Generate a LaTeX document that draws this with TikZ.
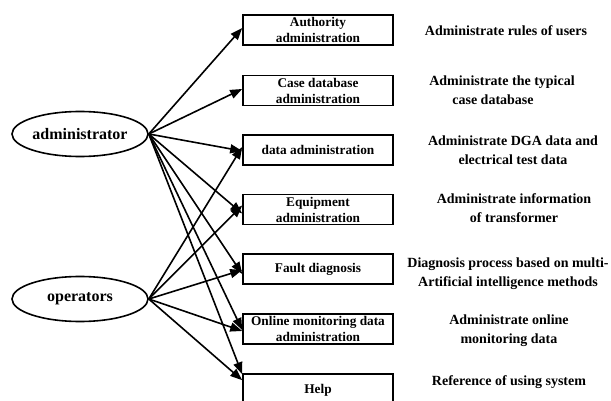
\documentclass[tikz,border=0pt]{standalone}
\usepackage{fontspec}
\setmainfont{Liberation Serif}
\usetikzlibrary{arrows.meta,shapes.geometric}
\begin{document}
\begin{tikzpicture}[x=1pt,y=-1pt,
  actor/.style={draw,line width=1.6pt,ellipse,minimum width=136pt,minimum height=45pt,inner sep=0pt,font=\fontsize{16}{18}\selectfont\bfseries},
  funcbox/.style={draw,line width=1.6pt,rectangle,minimum width=150pt,minimum height=30pt,inner sep=0pt,align=center,font=\fontsize{13.3}{16}\selectfont\bfseries},
  desc/.style={align=center,font=\fontsize{14}{19}\selectfont\bfseries},
  link/.style={line width=1.6pt,-{Triangle[length=12pt,width=9pt]}}]
\useasboundingbox (0,0) rectangle (611,401);
\node[actor] (adm) at (80,134) {administrator};
\node[actor] (ops) at (80,299) {operators};
\node[funcbox] (b1) at (318,30) {Authority\\administration};
\node[funcbox] (b2) at (318,90.5) {Case database\\administration};
\node[funcbox] (b3) at (318,150) {data administration};
\node[funcbox] (b4) at (318,209.5) {Equipment\\administration};
\node[funcbox] (b5) at (318,269) {Fault diagnosis};
\node[funcbox] (b6) at (318,329) {Online monitoring data\\administration};
\node[funcbox,minimum height=32pt] (b7) at (318,390) {Help};
\node[desc] (d1) at (506,31) {Administrate rules of users};
\node[desc] (d2) at (502,90) {Administrate the typical\\case database\hspace*{18pt}};
\node[desc] (d3) at (513,150) {Administrate DGA data and\\electrical test data};
\node[desc] (d4) at (514,208) {Administrate information\\of transformer};
\node[desc] (d5) at (508,274) {Diagnosis process based on multi-\\Artificial intelligence methods};
\node[desc] (d6) at (509,331) {Administrate online\\monitoring data};
\node[desc] (d7) at (509,382) {Reference of using system};
\coordinate (as) at (adm.east);
\coordinate (os) at (ops.east);
\draw[link] (as) -- ([yshift=2pt]b1.west);
\draw[link] (as) -- ([yshift=1.5pt]b2.west);
\draw[link] (as) -- ([yshift=-1pt]b3.west);
\draw[link] (as) -- ([yshift=-4pt]b4.west);
\draw[link] (as) -- ([yshift=-5pt]b5.west);
\draw[link] (as) -- ([yshift=-1pt]b6.west);
\draw[link] (as) -- ([yshift=-1pt]b7.north west);
\draw[link] (os) -- ([yshift=3pt]b3.west);
\draw[link] (os) -- ([yshift=4pt]b4.west);
\draw[link] (os) -- ([yshift=-1pt]b5.west);
\draw[link] (os) -- ([yshift=-2pt]b6.west);
\draw[link] (os) -- ([yshift=-7pt]b7.north west);
\end{tikzpicture}
\end{document}
